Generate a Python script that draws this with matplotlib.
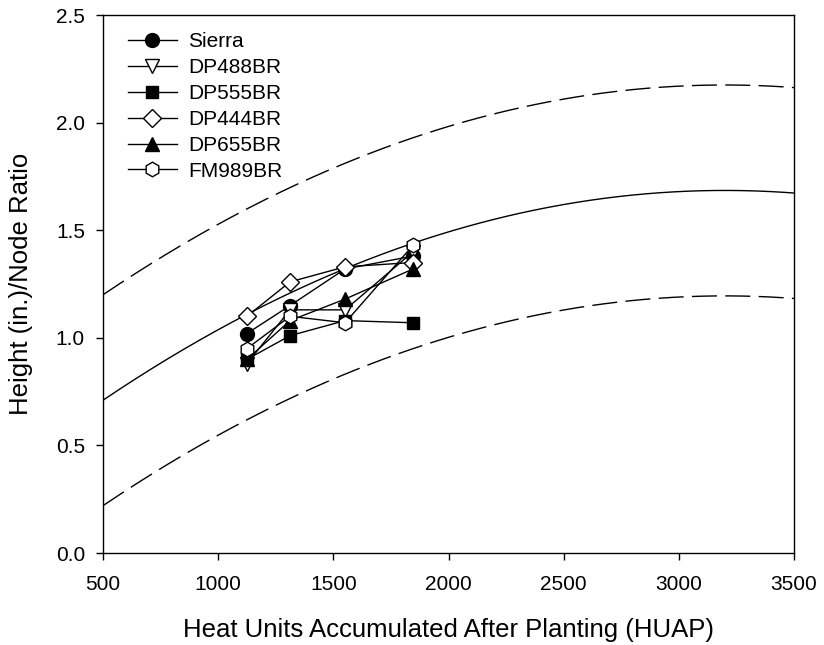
import numpy as np
import matplotlib
matplotlib.use("Agg")
import matplotlib.pyplot as plt

plt.rcParams['font.family'] = ['Liberation Sans', 'DejaVu Sans']

# heat units at each sampling date
huap = [1125, 1312, 1551, 1846]

cultivars = ["Sierra", "DP488BR", "DP555BR", "DP444BR", "DP655BR", "FM989BR"]
sierra = [1.02, 1.15, 1.32, 1.38]
dp488br = [0.88, 1.13, 1.13, 1.40]
dp555br = [0.90, 1.01, 1.08, 1.07]
dp444br = [1.10, 1.26, 1.33, 1.35]
dp655br = [0.90, 1.08, 1.18, 1.32]
fm989br = [0.95, 1.10, 1.07, 1.43]

# quadratic reference curve y = a + b*x + c*x^2 and band half-width
fit_a = 0.3155
fit_b = 8.559e-4
fit_c = -1.3374e-7
band = 0.49

fig = plt.figure(figsize=(8.24, 6.45), dpi=100)
ax = fig.add_axes([0.125, 0.1426, 0.8386, 0.8341])

xs = np.linspace(500, 3500, 300)
ys = fit_a + fit_b * xs + fit_c * xs ** 2
ax.plot(xs, ys, color="black", lw=1)
ax.plot(xs, ys + band, color="black", lw=1, dashes=(18, 6))
ax.plot(xs, ys - band, color="black", lw=1, dashes=(18, 6))

series = [sierra, dp488br, dp555br, dp444br, dp655br, fm989br]
markers = ["o", "v", "s", "D", "^", "h"]
fills = ["black", "white", "black", "white", "black", "white"]
sizes = [10, 10, 9, 9, 10, 10.5]

for name, vals, m, fc, ms in zip(cultivars, series, markers, fills, sizes):
    ax.plot(huap, vals, color="black", lw=1, marker=m, markersize=ms,
            markerfacecolor=fc, markeredgecolor="black", markeredgewidth=1,
            label=name)

ax.set_xlim(500, 3500)
ax.set_ylim(0, 2.5)
ax.set_xticks([500, 1000, 1500, 2000, 2500, 3000, 3500])
ax.set_yticks([0.0, 0.5, 1.0, 1.5, 2.0, 2.5])
ax.set_yticklabels(["0.0", "0.5", "1.0", "1.5", "2.0", "2.5"])
ax.tick_params(direction="out", length=5, width=1, labelsize=15)
ax.tick_params(axis="x", pad=11)
ax.tick_params(axis="y", pad=8)
for s in ax.spines.values():
    s.set_linewidth(1)

ax.set_xlabel("Heat Units Accumulated After Planting (HUAP)", fontsize=18.5, labelpad=17)
ax.set_ylabel("Height (in.)/Node Ratio", fontsize=18.5, labelpad=16)

ax.legend(loc="upper left", frameon=False, fontsize=15, handlelength=2.35,
          handletextpad=0.55, labelspacing=0.33, borderaxespad=0.3,
          bbox_to_anchor=(0.015, 0.995))

fig.savefig("out.png", dpi=100)
